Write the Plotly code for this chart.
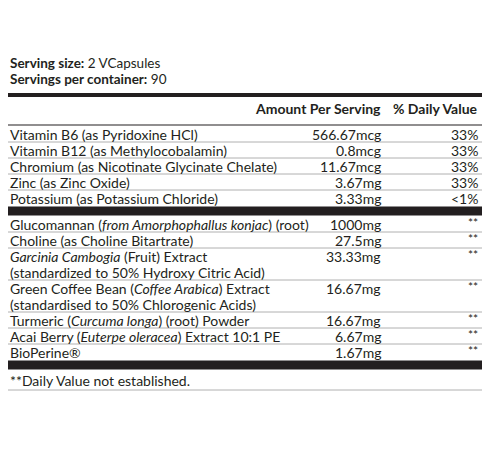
import plotly.graph_objects as go

# Vitamins and minerals
vit_names = ["Vitamin B6 (as Pyridoxine HCl)", "Vitamin B12 (as Methylocobalamin)",
             "Chromium (as Nicotinate Glycinate Chelate)", "Zinc (as Zinc Oxide)",
             "Potassium (as Potassium Chloride)"]
vit_amounts = ["566.67mcg", "0.8mcg", "11.67mcg", "3.67mg", "3.33mg"]
vit_dv = ["33%", "33%", "33%", "33%", "<1%"]

# Other actives (some take two lines)
herb_names = [
    ["Glucomannan (<i>from Amorphophallus konjac</i>) (root)"],
    ["Choline (as Choline Bitartrate)"],
    ["<i>Garcinia Cambogia</i> (Fruit) Extract", "(standardized to 50% Hydroxy Citric Acid)"],
    ["Green Coffee Bean (<i>Coffee Arabica</i>) Extract", "(standardised to 50% Chlorogenic Acids)"],
    ["Turmeric (<i>Curcuma longa</i>) (root) Powder"],
    ["Acai Berry (<i>Euterpe oleracea</i>) Extract 10:1 PE"],
    ["BioPerine®"],
]
herb_amounts = ["1000mg", "27.5mg", "33.33mg", "16.67mg", "16.67mg", "6.67mg", "1.67mg"]
herb_dv = ["**"] * 7

FONT = "Lato"
LINE_H = 16
X_NAME, X_AMT, X_DV = 8, 383, 480
OFF = 8  # page body margin

fig = go.Figure()
ann, shapes = [], []


def text(x, y, s, size=14, anchor="left", bold=False, family=FONT, color="#231f20"):
    ann.append(dict(x=x, y=y, text=f"<b>{s}</b>" if bold else s, showarrow=False,
                    xanchor=anchor, yanchor="middle", xref="x", yref="y",
                    font=dict(family=family, size=size, color=color)))


def hline(y, width=1, color="#b0b0b0"):
    shapes.append(dict(type="line", x0=2, x1=498, y0=y, y1=y, xref="x", yref="y",
                       line=dict(color=color, width=width)))


# title and serving info
ann.append(dict(x=4, y=24, text="<b>Supplement Facts</b>", showarrow=False, xanchor="left",
                yanchor="middle", xref="x", yref="y",
                font=dict(family=FONT, size=54, color="#231f20")))
text(X_NAME, 63, "<b>Serving size:</b> 2 VCapsules", size=13.5)
text(X_NAME, 79, "<b>Servings per container:</b> 90", size=13.5)
hline(95, width=4, color="#231f20")
text(X_AMT, 108, "Amount Per Serving", anchor="right", bold=True)
text(X_DV, 108, "% Daily Value", anchor="right", bold=True)
hline(125, width=1.2, color="#231f20")

top = 126
for i, (n, a, d) in enumerate(zip(vit_names, vit_amounts, vit_dv)):
    y = top + LINE_H / 2
    text(X_NAME, y, n)
    text(X_AMT, y, a, anchor="right")
    text(X_DV, y, d, anchor="right")
    top += LINE_H
    if i < len(vit_names) - 1:
        hline(top)

hline(top + 5, width=9, color="#231f20")
top += 10
for i, (lines, a, d) in enumerate(zip(herb_names, herb_amounts, herb_dv)):
    y = top + LINE_H / 2
    for k, ln in enumerate(lines):
        text(X_NAME, y + k * LINE_H, ln)
    text(X_AMT, y, a, anchor="right")
    text(X_DV, y - 2, d, anchor="right", size=12)
    top += LINE_H * len(lines)
    if i < len(herb_names) - 1:
        hline(top)

hline(top + 5, width=9, color="#231f20")
text(X_NAME, top + 20, "**Daily Value not established.")
hline(top + 30)
# left border of the box
shapes.append(dict(type="line", x0=2, x1=2, y0=0, y1=top + 30, xref="x", yref="y",
                   line=dict(color="#b0b0b0", width=1)))

text(2, 408, "<b>Other Ingredients:</b> Vegetable Cellulose, Microcrystalline Cellulose,",
     family="Open Sans", size=13)
text(2, 422, "Silicon Dioxide, Vegetable Stearate.", family="Open Sans", size=13)
text(0, 440, "(Other ingredients may vary, please check individual bottle)",
     family="Open Sans", size=11.5, color="#555555")

fig.update_layout(
    width=490, height=460, margin=dict(l=0, r=0, t=0, b=0),
    paper_bgcolor="white", plot_bgcolor="white",
    xaxis=dict(range=[OFF, 490 + OFF], visible=False, fixedrange=True),
    yaxis=dict(range=[460 + OFF, OFF], visible=False, fixedrange=True),
    annotations=ann, shapes=shapes, showlegend=False,
)
fig.write_html("out.html")
